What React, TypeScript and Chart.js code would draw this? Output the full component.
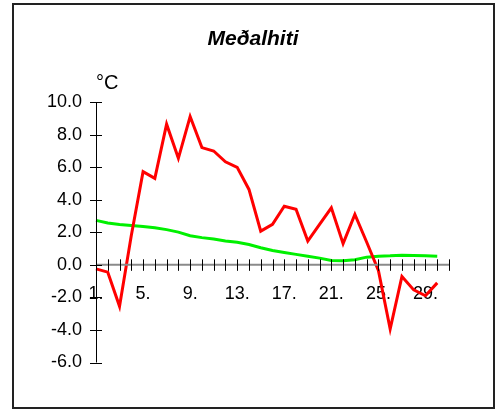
import React, { useEffect, useRef } from "react";
import { Chart, registerables } from "chart.js";

Chart.register(...registerables);

const chartTitle = "Meðalhiti";
const unitLabel = "°C";

const days = [
  "1", "2", "3", "4", "5", "6", "7", "8", "9", "10",
  "11", "12", "13", "14", "15", "16", "17", "18", "19", "20",
  "21", "22", "23", "24", "25", "26", "27", "28", "29", "30", "31",
];

const shownDayLabels = ["1.", "5.", "9.", "13.", "17.", "21.", "25.", "29."];

const dailyMean = [
  -0.25, -0.45, -2.55, 1.8, 5.72, 5.31, 8.64, 6.54, 9.11, 7.2,
  6.99, 6.33, 5.99, 4.63, 2.07, 2.49, 3.6, 3.41, 1.46, 2.49,
  3.5, 1.3, 3.09, 1.4, -0.35, -3.95, -0.72, -1.54, -1.9, -1.11,
];

const normalMean = [
  2.73, 2.57, 2.47, 2.41, 2.36, 2.28, 2.16, 2.01, 1.79, 1.67,
  1.58, 1.46, 1.38, 1.25, 1.05, 0.88, 0.76, 0.64, 0.53, 0.41,
  0.27, 0.25, 0.31, 0.47, 0.53, 0.55, 0.59, 0.57, 0.55, 0.53,
];

const yMin = -6;
const yMax = 10;
const yStep = 2;

const FONT = "'Liberation Sans', Arial, sans-serif";

const crossTicksPlugin = {
  id: "crossTicks",
  afterDraw(chart: any) {
    const ctx = chart.ctx;
    const xs = chart.scales.x;
    const ys = chart.scales.y;
    const zeroY = ys.getPixelForValue(0);
    const axisX = chart.chartArea.left;
    ctx.save();
    ctx.strokeStyle = "#8a8a8a";
    ctx.lineWidth = 2;
    ctx.beginPath();
    ctx.moveTo(xs.left, zeroY);
    ctx.lineTo(xs.right, zeroY);
    ctx.stroke();
    ctx.strokeStyle = "#000";
    ctx.lineWidth = 1;
    ctx.beginPath();
    ctx.moveTo(Math.round(axisX) + 0.5, ys.top);
    ctx.lineTo(Math.round(axisX) + 0.5, ys.bottom);
    ctx.stroke();
    ctx.beginPath();
    for (let i = 1; i < days.length; i++) {
      const px = Math.round(xs.getPixelForValue(i)) + 0.5;
      ctx.moveTo(px, zeroY - 5.5);
      ctx.lineTo(px, zeroY + 6);
    }
    ys.ticks.forEach((t: any) => {
      const py = Math.round(ys.getPixelForValue(t.value)) + 0.5;
      ctx.moveTo(axisX - 6, py);
      ctx.lineTo(axisX + 6, py);
    });
    ctx.stroke();
    ctx.fillStyle = "#000";
    ctx.textBaseline = "alphabetic";
    ctx.textAlign = "center";
    ctx.font = `italic bold 21px ${FONT}`;
    ctx.fillText(chartTitle, 253, 45);
    ctx.textAlign = "left";
    ctx.font = `20px ${FONT}`;
    ctx.fillText(unitLabel, 96, 89);
    ctx.restore();
  },
};

export default function App() {
  const canvasRef = useRef<HTMLCanvasElement | null>(null);

  useEffect(() => {
    if (!canvasRef.current) return;
    const chart = new Chart(canvasRef.current, {
      type: "line",
      data: {
        labels: days,
        datasets: [
          {
            label: "Meðalhiti",
            data: dailyMean,
            borderColor: "#ff0000",
            backgroundColor: "#ff0000",
            borderWidth: 3,
            pointRadius: 0,
            tension: 0,
            fill: false,
          },
          {
            label: "Meðaltal",
            data: normalMean,
            borderColor: "#00f000",
            backgroundColor: "#00f000",
            borderWidth: 3,
            pointRadius: 0,
            tension: 0,
            fill: false,
          },
        ],
      },
      options: {
        animation: false,
        responsive: false,
        devicePixelRatio: 1,
        layout: { padding: { left: 0, right: 47, top: 102, bottom: 47.5 } },
        plugins: {
          legend: { display: false },
          title: { display: false },
          tooltip: { enabled: false },
        },
        scales: {
          x: {
            type: "category",
            position: { y: 0 } as any,
            offset: false,
            grid: { display: false, drawTicks: false },
            border: { display: false },
            ticks: {
              autoSkip: false,
              maxRotation: 0,
              padding: 18,
              color: "#000",
              font: { family: FONT, size: 18 },
              callback: (_v: any, i: number) => {
                const lbl = days[i] + ".";
                return shownDayLabels.includes(lbl) ? lbl : "";
              },
            },
          },
          y: {
            min: yMin,
            max: yMax,
            grid: { display: false, drawTicks: false },
            border: { display: false },
            afterFit: (s: any) => {
              s.width = 96;
            },
            ticks: {
              stepSize: yStep,
              padding: 14,
              color: "#000",
              font: { family: FONT, size: 18 },
              callback: (v: any) => Number(v).toFixed(1),
            },
          },
        },
      },
      plugins: [crossTicksPlugin],
    });
    return () => chart.destroy();
  }, []);

  return (
    <div style={{ position: "absolute", left: 0, top: 0, width: 496, height: 410 }}>
      <div
        style={{
          position: "absolute",
          left: 12,
          top: 3,
          width: 483,
          height: 406,
          border: "2px solid #222",
          boxSizing: "border-box",
          background: "#fff",
        }}
      />
      <canvas
        ref={canvasRef}
        width={496}
        height={410}
        style={{ position: "absolute", left: 0, top: 0, width: 496, height: 410 }}
      />
    </div>
  );
}
